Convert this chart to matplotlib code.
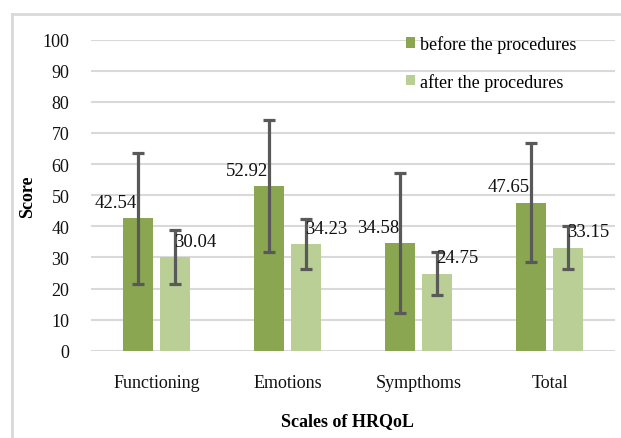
import numpy as np
import matplotlib
matplotlib.use("Agg")
import matplotlib.pyplot as plt
from matplotlib.patches import Patch
from matplotlib.lines import Line2D

# ==================== data ====================
categories = ["Functioning", "Emotions", "Sympthoms", "Total"]
before = [42.54, 52.92, 34.58, 47.65]
after = [30.04, 34.23, 24.75, 33.15]
before_err = [21.1, 21.1, 22.5, 19.1]
after_err = [8.7, 8.0, 7.0, 7.0]
series_labels = ["before the procedures", "after the procedures"]

# ==================== style ====================
plt.rcParams['font.family'] = ['Liberation Serif', 'DejaVu Serif']
c_before = "#8aa650"
c_after = "#b9cf95"
c_err = "#595959"
c_grid = "#d9d9d9"

fig = plt.figure(figsize=(6.21, 4.39), dpi=100)
ax = fig.add_axes([91 / 621, 1 - 351.7 / 439, 524 / 621, 311 / 439])

x = np.arange(len(categories))
w = 0.23
off = 0.141

ax.bar(x - off, before, width=w, color=c_before, zorder=2)
ax.bar(x + off, after, width=w, color=c_after, zorder=2)
ax.errorbar(x - off, before, yerr=before_err, fmt="none", ecolor=c_err,
            elinewidth=2.3, capsize=4, capthick=2.3, zorder=3)
ax.errorbar(x + off, after, yerr=after_err, fmt="none", ecolor=c_err,
            elinewidth=2.3, capsize=4, capthick=2.3, zorder=3)

# data labels
for xi, v in zip(x - off, before):
    ax.annotate(f"{v:.2f}", (xi, v), xytext=(-22, 16), textcoords="offset pixels",
                ha="center", va="center", fontsize=13.5, color="#111111", zorder=4)
for xi, v in zip(x + off, after):
    ax.annotate(f"{v:.2f}", (xi, v), xytext=(20, 16), textcoords="offset pixels",
                ha="center", va="center", fontsize=13.5, color="#111111", zorder=4)

ax.set_xlim(-0.5, len(categories) - 0.5)
ax.set_ylim(0, 100)
ax.set_yticks(np.arange(0, 101, 10))
ax.set_xticks(x)
ax.set_xticklabels(categories)
ax.tick_params(axis="both", length=0, labelsize=13, colors="#111111")
ax.tick_params(axis="y", pad=15.5)
ax.tick_params(axis="x", pad=17)
ax.yaxis.grid(True, color=c_grid, linewidth=1.5, zorder=0)
ax.set_axisbelow(True)
for s in ax.spines.values():
    s.set_visible(False)

ax.set_xlabel("Scales of HRQoL", fontsize=13, fontweight="bold")
ax.xaxis.set_label_coords(0.49, -0.226)
ax.xaxis.label.set_verticalalignment("center")
ax.set_ylabel("Score", fontsize=13, fontweight="bold")
ax.yaxis.set_label_coords(-0.122, 0.497)
ax.yaxis.label.set_verticalalignment("center")

handles = [Patch(facecolor=c_before), Patch(facecolor=c_after)]
fig.legend(handles, series_labels, loc="upper left",
           bbox_to_anchor=(406 / 621, 1 - 36 / 439), frameon=False,
           fontsize=13, handlelength=0.5, handleheight=0.5,
           handletextpad=0.3, labelspacing=1.1, borderpad=0, borderaxespad=0)

# outer chart border (cut at right and bottom)
x0, y0 = 12 / 621, 1 - 15 / 439
fig.add_artist(Line2D([x0, x0], [0, y0], transform=fig.transFigure, color=c_grid, linewidth=2))
fig.add_artist(Line2D([x0, 1], [y0, y0], transform=fig.transFigure, color=c_grid, linewidth=2))

fig.savefig("out.png", dpi=100)
